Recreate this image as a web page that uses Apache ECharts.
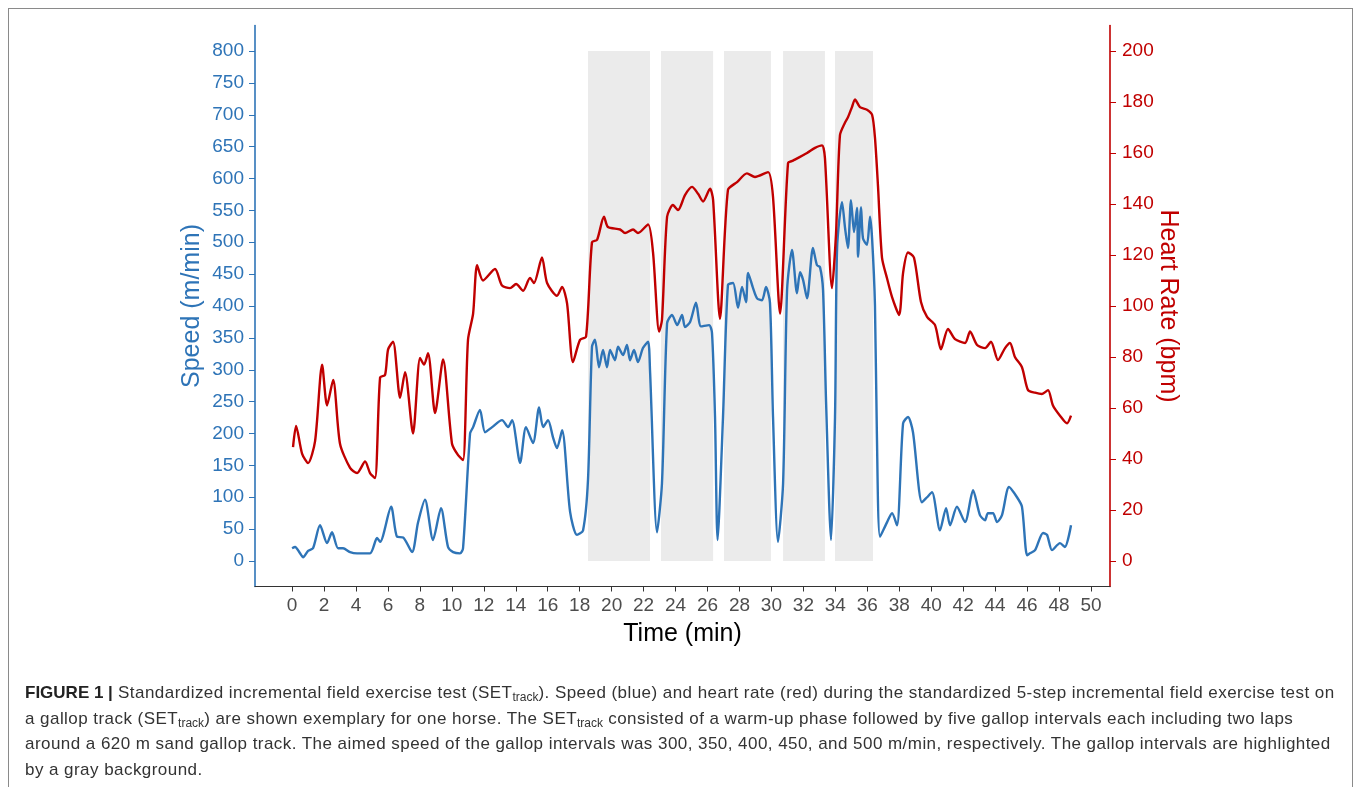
<!DOCTYPE html>
<html>
<head>
<meta charset="utf-8">
<script src="https://cdn.jsdelivr.net/npm/echarts@6/dist/echarts.min.js"></script>
<style>
  html, body { margin: 0; padding: 0; background: #ffffff; }
  #wrap { position: relative; width: 1357px; height: 787px; overflow: hidden; }
  #chart { position: absolute; left: 0; top: 0; width: 1357px; height: 787px; }
  #frame { position: absolute; left: 8px; top: 8px; width: 1345px; height: 800px;
           border: 1.5px solid #8a8a8a; border-bottom: none; box-sizing: border-box; pointer-events: none; }
  #caption { position: absolute; left: 25px; top: 680px; font-family: "Liberation Sans", Arial, sans-serif;
             font-size: 17px; letter-spacing: 0.45px; line-height: 25.7px; color: #333; white-space: nowrap; }
  #caption b { color: #222; letter-spacing: 0; }
  #caption sub { font-size: 12px; vertical-align: -3px; line-height: 0; letter-spacing: 0; }
</style>
</head>
<body>
<div id="wrap">
  <div id="chart"></div>
  <div id="frame"></div>
  <div id="caption">
    <b>FIGURE 1 |</b> Standardized incremental field exercise test (SET<sub>track</sub>). Speed (blue) and heart rate (red) during the standardized 5-step incremental field exercise test on<br>
    a gallop track (SET<sub>track</sub>) are shown exemplary for one horse. The SET<sub>track</sub> consisted of a warm-up phase followed by five gallop intervals each including two laps<br>
    around a 620 m sand gallop track. The aimed speed of the gallop intervals was 300, 350, 400, 450, and 500 m/min, respectively. The gallop intervals are highlighted<br>
    by a gray background.
  </div>
</div>
<script>
// Speed (m/min) over time (min)
const speedSeries = [[0,20],[0.19,22],[0.5,12],[0.69,6],[1.0,16],[1.31,20],[1.75,56],[2.19,28],[2.5,45],[2.88,20],[3.19,20],[3.63,14],[4.07,12],[4.88,12],[5.32,36],[5.51,30],[6.2,85],[6.57,38],[6.95,37],[7.51,14],[7.88,60],[8.32,96],[8.82,33],[9.32,83],[9.76,22],[10.08,14],[10.51,12],[10.7,20],[11.14,200],[11.33,210],[11.76,237],[12.08,202],[12.52,210],[13.14,221],[13.52,210],[13.77,221],[14.27,154],[14.64,210],[15.08,185],[15.46,241],[15.71,210],[16.02,221],[16.33,194],[16.58,177],[16.9,205],[17.4,77],[17.83,41],[18.21,48],[18.52,127],[18.77,336],[18.96,347],[19.21,304],[19.46,331],[19.71,304],[19.9,331],[20.21,315],[20.4,336],[20.71,323],[20.96,339],[21.15,315],[21.4,331],[21.65,312],[21.96,334],[22.28,344],[22.4,300],[22.84,45],[23.15,122],[23.47,373],[23.78,386],[24.1,370],[24.41,386],[24.59,367],[24.91,375],[25.28,405],[25.59,368],[26.1,370],[26.28,358],[26.47,226],[26.63,33],[26.97,226],[27.28,433],[27.6,436],[27.91,397],[28.16,430],[28.41,406],[28.54,452],[28.85,428],[29.1,412],[29.41,409],[29.66,430],[29.91,405],[30.1,226],[30.41,30],[30.73,122],[30.98,425],[31.29,488],[31.6,420],[31.79,453],[31.98,441],[32.23,412],[32.6,491],[32.85,464],[33.04,461],[33.23,425],[33.42,250],[33.73,33],[33.98,226],[34.11,491],[34.42,563],[34.61,522],[34.79,491],[34.98,566],[35.17,516],[35.36,554],[35.42,477],[35.61,555],[35.73,506],[35.98,496],[36.17,540],[36.3,506],[36.48,401],[36.6,200],[36.8,38],[37.24,61],[37.55,75],[37.86,56],[38.24,216],[38.55,226],[38.86,202],[39.42,92],[39.74,100],[40.05,108],[40.55,48],[40.93,83],[41.18,56],[41.61,85],[42.12,61],[42.62,111],[43.05,72],[43.37,64],[43.55,75],[43.87,75],[44.12,61],[44.43,72],[44.87,116],[45.37,100],[45.68,85],[46.0,9],[46.18,12],[46.5,17],[47.0,44],[47.25,41],[47.56,17],[48.06,28],[48.37,22],[48.75,56]];

// Heart rate (bpm) over time (min)
const hrSeries = [[0.06,44.7],[0.25,53],[0.63,42],[1.0,38.4],[1.44,47],[1.88,77],[2.19,61],[2.57,71],[3.0,46],[3.63,36.5],[4.07,34.5],[4.57,39],[4.88,34.5],[5.19,32.5],[5.51,72],[5.82,73],[6.01,83],[6.32,86],[6.76,64],[7.07,74],[7.57,50],[8.01,79.6],[8.26,77],[8.51,81.5],[8.95,58],[9.45,79],[10.01,46],[10.39,41.5],[10.7,39.6],[11.01,86.7],[11.33,97],[11.58,116],[11.95,110],[12.7,114.5],[13.14,108],[13.64,107],[14.02,108.6],[14.46,106],[14.89,111],[15.14,109],[15.64,119],[15.96,109],[16.58,104],[16.9,107.5],[17.21,101],[17.58,78],[18.02,86.7],[18.4,88],[18.77,125],[19.09,126],[19.52,135],[19.77,131],[20.53,130],[20.84,128.6],[21.34,130],[21.65,128.6],[22.28,132],[22.59,121],[22.97,90],[23.15,94.5],[23.47,135],[23.84,139.6],[24.16,137.6],[24.59,143.5],[25.03,146.7],[25.41,144],[25.72,141],[26.16,146],[26.35,141.6],[26.78,95],[27.28,145.5],[27.85,148.6],[28.47,152],[28.97,150.6],[29.79,152.5],[30.1,142.7],[30.54,97],[31.04,156],[31.35,157],[32.23,160],[32.73,162],[33.17,163],[33.35,158],[33.79,107],[34.04,128],[34.29,167],[34.61,172],[34.79,174],[35.04,178],[35.23,181],[35.54,178],[35.98,177],[36.3,175],[36.48,166],[36.67,147],[36.92,119],[37.23,111],[37.55,103.5],[37.99,96.5],[38.24,113],[38.55,121],[38.92,119],[39.36,101.6],[39.74,95.7],[40.24,92.5],[40.61,83],[41.05,91],[41.49,87],[42.12,85.5],[42.43,90],[42.87,84.7],[43.37,83.5],[43.74,86],[44.18,78.8],[44.62,83.5],[44.93,85.5],[45.24,80],[45.68,76],[46.06,67],[46.5,66],[46.93,65.5],[47.31,67],[47.62,61],[48.06,57],[48.5,54],[48.75,57]];

// Gallop intervals (start, end in min)
const intervalStarts = [18.52, 23.09, 27.03, 30.73, 33.98];
const intervalEnds   = [22.40, 26.35, 29.97, 33.35, 36.36];

// Tick labels
const timeTicks  = [0,2,4,6,8,10,12,14,16,18,20,22,24,26,28,30,32,34,36,38,40,42,44,46,48,50];
const speedTicks = [0,50,100,150,200,250,300,350,400,450,500,550,600,650,700,750,800];
const hrTicks    = [0,20,40,60,80,100,120,140,160,180,200];

const BLUE = '#2e74b7';
const RED = '#c00000';
const FONT = '"Liberation Sans", Arial, sans-serif';

const chart = echarts.init(document.getElementById('chart'), null, { renderer: 'canvas' });
chart.setOption({
  animation: false,
  backgroundColor: 'transparent',
  textStyle: { fontFamily: FONT },
  grid: { left: 255, right: 247, top: 25.5, bottom: 200.5, containLabel: false },
  xAxis: {
    type: 'value', min: -2.32, max: 51.19,
    axisLine: { show: true, onZero: false, lineStyle: { color: '#333', width: 1.2 } },
    axisTick: { show: true, customValues: timeTicks, length: 5, lineStyle: { color: '#333', width: 1 } },
    axisLabel: { customValues: timeTicks, color: '#4d4d4d', fontSize: 19, margin: 10, fontFamily: FONT },
    splitLine: { show: false },
    name: 'Time (min)', nameLocation: 'middle', nameGap: 35,
    nameTextStyle: { fontSize: 25, color: '#000', fontFamily: FONT }
  },
  yAxis: [
    {
      type: 'value', position: 'left', min: -40, max: 840,
      axisLine: { show: true, onZero: false, lineStyle: { color: BLUE, width: 1.6 } },
      axisTick: { show: true, customValues: speedTicks, length: 6, lineStyle: { color: BLUE, width: 1 } },
      axisLabel: { customValues: speedTicks, color: BLUE, fontSize: 19, margin: 11, fontFamily: FONT },
      splitLine: { show: false },
      name: 'Speed (m/min)', nameLocation: 'middle', nameGap: 50, nameMoveOverlap: false,
      nameTextStyle: { fontSize: 25, color: BLUE, fontFamily: FONT }
    },
    {
      type: 'value', position: 'right', min: -10, max: 210,
      axisLine: { show: true, onZero: false, lineStyle: { color: RED, width: 1.6 } },
      axisTick: { show: true, customValues: hrTicks, length: 6, lineStyle: { color: RED, width: 1 } },
      axisLabel: { customValues: hrTicks, color: RED, fontSize: 19, margin: 12, fontFamily: FONT },
      splitLine: { show: false },
      name: 'Heart Rate (bpm)', nameLocation: 'middle', nameGap: 45, nameRotate: -90, nameMoveOverlap: false,
      nameTextStyle: { fontSize: 25, color: RED, fontFamily: FONT }
    }
  ],
  series: [
    {
      name: 'Speed', type: 'line', yAxisIndex: 0, data: speedSeries,
      showSymbol: false, smooth: 0.25, z: 3,
      lineStyle: { color: BLUE, width: 2.4 },
      markArea: {
        silent: true,
        itemStyle: { color: '#ebebeb' },
        data: intervalStarts.map((s, i) => [{ xAxis: s, yAxis: 0 }, { xAxis: intervalEnds[i], yAxis: 800 }])
      }
    },
    {
      name: 'Heart Rate', type: 'line', yAxisIndex: 1, data: hrSeries,
      showSymbol: false, smooth: 0.25, z: 4,
      lineStyle: { color: RED, width: 2.4 }
    }
  ]
});
</script>
</body>
</html>
